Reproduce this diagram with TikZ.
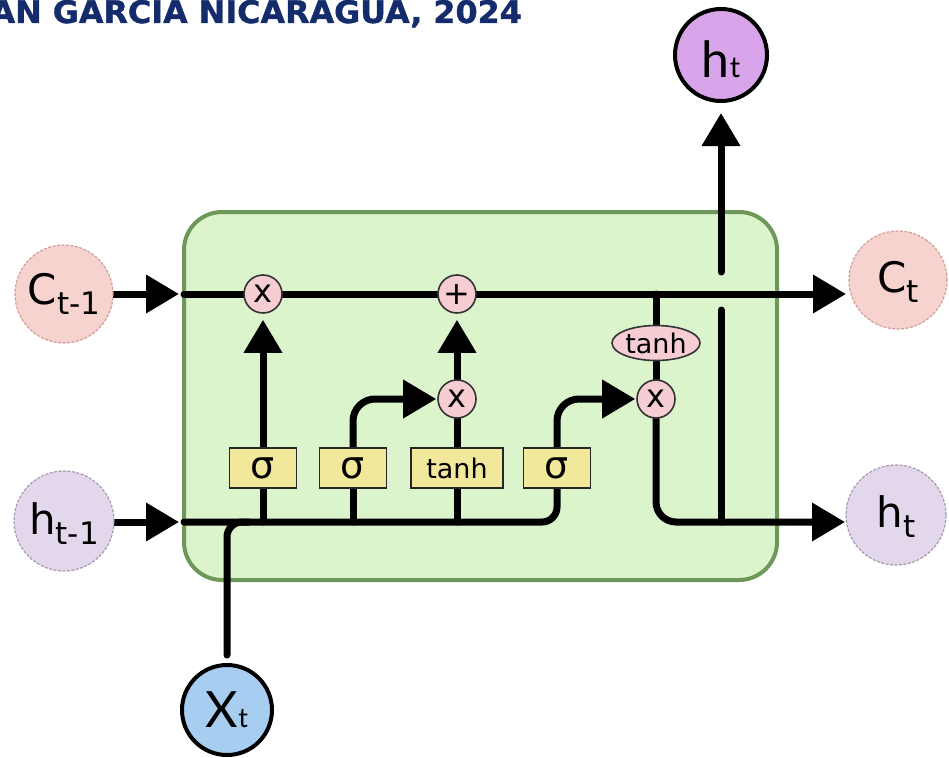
\documentclass[tikz,border=0pt]{standalone}
\usepackage{fontspec}
\setmainfont{DejaVu Sans}
\newfontfamily\roundfont{Lato}
\newfontfamily\headfont[BoldFeatures={FakeBold=1.2}]{DejaVu Sans}
\usetikzlibrary{arrows.meta,shapes.geometric,calc}

\definecolor{titleblue}{HTML}{142C6B}
\definecolor{cellfill}{HTML}{DCF4CC}
\definecolor{celledge}{HTML}{6E985A}
\definecolor{gatepink}{HTML}{F5CDD3}
\definecolor{layeryellow}{HTML}{F2E89B}
\definecolor{statepink}{HTML}{F7D3CF}
\definecolor{stateedge}{HTML}{D29E9A}
\definecolor{hiddenlav}{HTML}{E3D7EC}
\definecolor{hiddenedge}{HTML}{A898B2}
\definecolor{outviolet}{HTML}{D8A4EA}
\definecolor{inblue}{HTML}{A7CEF0}

\pgfdeclarelayer{cellbox}
\pgfdeclarelayer{wires}
\pgfsetlayers{cellbox,wires,main}

\newcommand{\subsz}{\fontsize{31}{31}\selectfont}

\begin{document}
\begin{tikzpicture}[x=1pt,y=-1pt,
  wire/.style={line width=7pt, black, line cap=round},
  arr/.style={wire, -{Triangle[length=33pt,width=37pt]}},
  gate/.style={circle, draw=black!80, line width=1.6pt, fill=gatepink,
    minimum size=38pt, inner sep=0pt, font=\fontsize{32}{32}\selectfont},
  actfn/.style={ellipse, draw=black!80, line width=1.6pt, fill=gatepink,
    minimum width=88pt, minimum height=35pt, inner sep=0pt,
    font=\fontsize{27}{27}\selectfont},
  nnlayer/.style={rectangle, draw=black!85, line width=1.8pt, fill=layeryellow,
    minimum height=40pt, minimum width=67pt, inner sep=0pt},
  sigmatext/.style={font=\fontsize{38}{38}\selectfont},
  tanhtext/.style={font=\fontsize{27}{27}\selectfont},
  cstate/.style={circle, draw=stateedge, line width=1.2pt, dash pattern=on 3pt off 1.5pt,
    fill=statepink, minimum size=98pt, inner sep=0pt, font=\fontsize{42}{42}\selectfont},
  hstate/.style={circle, draw=hiddenedge, line width=1.2pt, dash pattern=on 3pt off 1.5pt,
    fill=hiddenlav, minimum size=100pt, inner sep=0pt, font=\fontsize{42}{42}\selectfont},
  boldio/.style={circle, draw=black, line width=4pt, minimum size=92pt, inner sep=0pt,
    font=\roundfont\fontsize{50}{50}\selectfont}
]
\useasboundingbox (0,0) rectangle (949,757);

% heading
\node[anchor=base east, inner sep=0pt, text=titleblue,
  font=\headfont\bfseries\fontsize{31}{31}\selectfont] (title) at (522,23)
  {\scalebox{1.025}[1]{AN GARCIA NICARAGUA, 2024}};

% inputs and outputs
\node[cstate, text height=31pt, text depth=11pt] (cprev) at (64,294)
  {C\raisebox{-10pt}{\subsz t-1}};
\node[hstate, text height=33pt, text depth=7pt] (hprev) at (64,521)
  {h\raisebox{-10pt}{\subsz t-1}};
\node[cstate, text height=31pt, text depth=7pt] (cnext) at (898,280)
  {C\raisebox{-10pt}{\subsz t}};
\node[hstate, text height=33pt, text depth=9pt] (hnext) at (896,515)
  {h\raisebox{-10pt}{\subsz t}};
\node[boldio, fill=outviolet, text height=46pt, text depth=0pt] (htop) at (721,55)
  {h{\fontsize{29}{29}\selectfont t}};
\node[boldio, fill=inblue, minimum size=90pt, text height=34pt, text depth=0pt] (xt) at (227,710)
  {X{\fontsize{27}{27}\selectfont t}};

% pointwise operations
\node[gate] (mul1) at (263,294) {x};
\node[gate] (add)  at (457,294) {+};
\node[gate] (mul2) at (457,399) {x};
\node[gate] (mul3) at (656,399) {x};
\node[actfn] (th) at (656,343) {tanh};

% network layers
\node[nnlayer, sigmatext] (s1) at (263,468) {σ};
\node[nnlayer, sigmatext] (s2) at (353,468) {σ};
\node[nnlayer, tanhtext, minimum width=92pt] (tb) at (457,468) {tanh};
\node[nnlayer, sigmatext] (s3) at (557,468) {σ};

% fixed points of the wiring
\coordinate (cin) at (179,294);
\coordinate (cstart) at (184,294);
\coordinate (cend) at (846,294);
\coordinate (hin) at (179,522);
\coordinate (hstart) at (184,522);
\coordinate (hend) at (845,522);
\coordinate (hjoin) at (721,522);
\coordinate (gapbot) at (721,310);
\coordinate (gaptop) at (721,272);

% cell body
\begin{pgfonlayer}{cellbox}
  \draw[draw=celledge, fill=cellfill, line width=4pt, rounded corners=38pt]
    (184,212) rectangle (777,580);
\end{pgfonlayer}

\begin{pgfonlayer}{wires}
  % cell state
  \draw[arr] (cprev.east) -- (cin);
  \draw[arr] (cstart) -- (cend);
  % hidden state and input
  \draw[arr] (hprev.east |- hin) -- (hin);
  \draw[wire, rounded corners=15pt] (hstart) -- (s3.south |- hstart) -- (s3.south);
  \draw[wire] (s1.south) -- (s1.south |- hstart);
  \draw[wire] (s2.south) -- (s2.south |- hstart);
  \draw[wire] (tb.south) -- (tb.south |- hstart);
  \draw[wire, rounded corners=15pt, shorten <=8pt]
    (xt.north) -- (xt.north |- hstart) -- ($(xt.north |- hstart)+(22,0)$);
  % forget gate
  \draw[arr, shorten >=6pt] (s1.north) -- (mul1.south);
  % input gate
  \draw[arr, rounded corners=22pt, shorten >=1pt] (s2.north) |- (mul2.west);
  \draw[wire] (tb.north) -- (mul2.south);
  \draw[arr, shorten >=6pt] (mul2.north) -- (add.south);
  % output gate
  \draw[arr, rounded corners=22pt, shorten >=1pt] (s3.north) |- (mul3.west);
  \draw[wire] (mul3 |- cstart) -- (mul3.center);
  \draw[arr, rounded corners=20pt] (mul3.south) |- (hend);
  % hidden output upwards, bridging the cell state line
  \draw[wire] (hjoin) -- (gapbot);
  \draw[arr, shorten >=10pt] (gaptop) -- (htop.south);
\end{pgfonlayer}
\end{tikzpicture}
\end{document}
